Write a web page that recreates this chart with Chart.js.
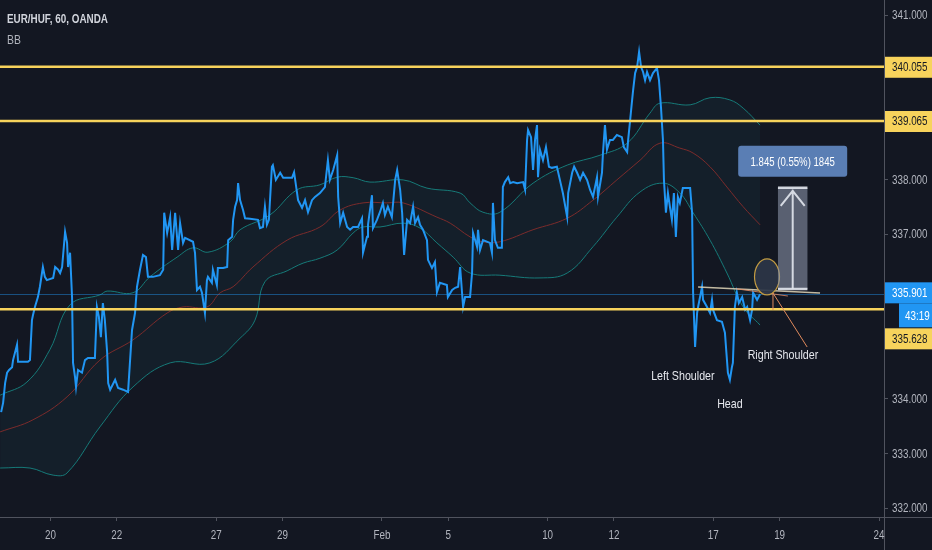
<!DOCTYPE html>
<html>
<head>
<meta charset="utf-8">
<script src="https://cdn.jsdelivr.net/npm/chart.js@4.4.1/dist/chart.umd.min.js"></script>
<style>
  html, body { margin: 0; padding: 0; background: #131722; overflow: hidden; }
  #wrap { width: 932px; height: 550px; }
</style>
</head>
<body>
<div id="wrap"><canvas id="chart" width="932" height="550"></canvas></div>
<script>
// time axis is in trading days, 0 = Jan 20 (weekends skipped)
const dayTicks = [0, 2, 5, 7, 10, 12, 15, 17, 20, 22, 25];
const dayTickLabels = ["20", "22", "27", "29", "Feb", "5", "10", "12", "17", "19", "24"];
const priceTicks = [332, 333, 334, 337, 338, 341];

// EUR/HUF 60 min close
const priceDays = [
  -1.49, -1.43, -1.37, -1.31, -1.25, -1.16, -1.13, -1.01, -0.98, -0.89,
  -0.68, -0.62, -0.56, -0.53, -0.47, -0.38, -0.32, -0.23, -0.17, -0.11,
  0.08, 0.14, 0.23, 0.29, 0.35, 0.44, 0.5, 0.53, 0.59, 0.65,
  0.68, 0.74, 0.77, 0.83, 0.95, 1.04, 1.13, 1.34, 1.4, 1.46,
  1.52, 1.58, 1.64, 1.71, 1.74, 1.8, 1.95, 2.04, 2.19, 2.34,
  2.46, 2.55, 2.61, 2.7, 2.79, 2.88, 2.94, 3.09, 3.3, 3.4,
  3.43, 3.52, 3.61, 3.67, 3.76, 3.85, 3.91, 4.0, 4.06, 4.3,
  4.36, 4.42, 4.51, 4.57, 4.66, 4.72, 4.75, 4.87, 4.9, 5.02,
  5.05, 5.21, 5.33, 5.36, 5.48, 5.51, 5.57, 5.63, 5.66, 5.72,
  5.81, 5.87, 6.02, 6.26, 6.32, 6.41, 6.47, 6.53, 6.59, 6.68,
  6.71, 6.8, 6.93, 7.02, 7.29, 7.35, 7.44, 7.47, 7.59, 7.68,
  7.77, 7.89, 7.98, 8.13, 8.28, 8.37, 8.43, 8.53, 8.65, 8.68,
  8.74, 8.83, 8.95, 9.04, 9.13, 9.28, 9.4, 9.43, 9.55, 9.58,
  9.7, 9.73, 9.85, 9.94, 10.03, 10.09, 10.18, 10.3, 10.4, 10.46,
  10.55, 10.61, 10.67, 10.76, 10.85, 10.94, 11.0, 11.09, 11.15, 11.24,
  11.36, 11.39, 11.51, 11.6, 11.66, 11.75, 11.96, 11.99, 12.12, 12.21,
  12.3, 12.36, 12.45, 12.51, 12.66, 12.72, 12.75, 12.87, 12.9, 12.96,
  13.05, 13.26, 13.32, 13.35, 13.41, 13.5, 13.62, 13.65, 13.71, 13.81,
  13.87, 13.96, 14.08, 14.26, 14.32, 14.38, 14.41, 14.5, 14.56, 14.62,
  14.68, 14.71, 14.77, 14.86, 14.95, 15.04, 15.13, 15.28, 15.37, 15.46,
  15.59, 15.62, 15.74, 15.8, 15.89, 15.98, 16.07, 16.19, 16.28, 16.37,
  16.49, 16.52, 16.64, 16.67, 16.73, 16.79, 16.88, 16.97, 17.09, 17.24,
  17.3, 17.4, 17.43, 17.49, 17.55, 17.58, 17.64, 17.7, 17.76, 17.82,
  17.88, 17.94, 18.0, 18.09, 18.18, 18.3, 18.36, 18.42, 18.48, 18.51,
  18.57, 18.63, 18.69, 18.75, 18.81, 18.87, 18.93, 18.99, 19.08, 19.3,
  19.36, 19.39, 19.45, 19.51, 19.54, 19.66, 19.69, 19.81, 19.9, 19.96,
  19.99, 20.11, 20.26, 20.35, 20.44, 20.5, 20.56, 20.59, 20.65, 20.71,
  20.77, 20.87, 20.96, 21.02, 21.11, 21.17, 21.2, 21.32, 21.41,
];
const priceValues = [
  333.75, 333.92, 334.28, 334.47, 334.52, 334.57, 334.7, 334.98, 334.67, 334.67,
  334.67, 334.7, 335.43, 335.52, 335.67, 335.85, 336.04, 336.4, 336.22, 336.16,
  336.2, 336.4, 336.35, 336.29, 336.4, 337.04, 336.84, 336.4, 336.66, 335.85,
  334.65, 334.39, 334.21, 334.52, 334.47, 334.7, 334.74, 334.74, 335.67, 335.49,
  335.12, 335.74, 335.43, 334.83, 334.28, 334.16, 334.34, 334.19, 334.16, 334.12,
  335.25, 335.56, 336.04, 336.35, 336.62, 336.58, 336.22, 336.22, 336.25, 336.35,
  337.39, 337.02, 337.31, 336.71, 337.39, 336.71, 337.2, 336.84, 336.93, 336.86,
  336.66, 335.98, 336.04, 335.93, 335.56, 336.16, 336.22, 336.11, 336.35, 336.07,
  336.38, 336.38, 336.4, 336.89, 336.95, 337.26, 337.5, 337.62, 337.93, 337.62,
  337.44, 337.29, 337.28, 337.26, 337.11, 337.13, 337.5, 337.17, 337.26, 338.23,
  338.26, 337.99, 338.12, 338.03, 338.03, 338.13, 337.75, 337.62, 337.48, 337.62,
  337.4, 337.62, 337.68, 337.75, 337.86, 338.35, 337.99, 338.17, 338.44, 337.68,
  337.2, 337.39, 337.13, 337.08, 337.13, 337.13, 337.29, 336.66, 336.95, 337.17,
  337.71, 337.11, 337.26, 337.4, 337.57, 337.35, 337.5, 337.31, 337.99, 338.17,
  337.81, 337.39, 336.62, 337.26, 337.2, 337.5, 337.2, 337.31, 337.17, 337.08,
  336.89, 336.53, 336.38, 336.49, 335.94, 336.11, 336.07, 335.85, 335.98, 336.02,
  336.04, 336.4, 335.67, 335.85, 335.85, 336.29, 337.02, 336.77, 337.08, 336.71,
  336.89, 336.84, 336.66, 337.57, 336.89, 336.75, 336.75, 337.86, 337.95, 338.04,
  337.93, 337.95, 337.93, 337.95, 337.81, 338.72, 338.9, 338.77, 338.17, 338.72,
  338.99, 338.04, 338.54, 338.35, 338.59, 338.23, 338.21, 338.23, 337.99, 337.75,
  337.31, 337.75, 338.12, 338.23, 338.12, 337.99, 338.12, 337.99, 337.81, 337.68,
  338.04, 337.68, 338.12, 338.48, 338.99, 338.54, 338.72, 338.72, 338.81, 338.77,
  338.59, 338.5, 338.72, 339.08, 339.45, 339.63, 339.94, 340.05, 340.33, 340.05,
  339.96, 339.81, 339.96, 339.81, 339.94, 340.03, 339.81, 339.32, 338.72, 337.99,
  337.39, 337.75, 337.5, 337.26, 337.75, 336.95, 337.68, 337.57, 337.84, 337.84,
  337.39, 335.93, 334.94, 335.56, 335.67, 336.04, 335.8, 335.67, 335.56, 335.8,
  335.62, 335.43, 335.4, 335.2, 334.47, 334.34, 334.57, 334.65, 335.67, 335.93,
  335.74, 335.85, 335.62, 335.67, 335.43, 335.62, 335.93, 335.8, 335.901,
];

// Bollinger bands (upper / basis / lower)
const upperDays = [-1.52, -0.71, -0.02, 0.59, 1.49, 1.71, 2.49, 3.0, 3.82, 4.3, 4.75, 5.42, 5.72, 6.62, 7.44, 8.13, 8.65, 9.13, 9.64, 10.64, 11.36, 12.36, 12.66, 13.05, 13.56, 14.56, 15.59, 16.58, 17.4, 18.09, 18.39, 19.3, 19.9, 20.5, 20.9, 21.41];
const upperValues = [334.06, 334.3, 334.89, 335.71, 335.89, 335.96, 335.93, 336.22, 336.58, 336.75, 336.67, 336.86, 337.08, 337.35, 337.81, 337.9, 338.04, 338.03, 337.95, 337.99, 337.84, 337.75, 337.57, 337.4, 337.4, 337.93, 338.26, 338.44, 338.66, 339.21, 339.39, 339.36, 339.49, 339.45, 339.3, 338.99];
const basisDays = [-1.52, -0.53, 0.5, 1.49, 2.49, 3.52, 4.0, 4.72, 5.12, 5.51, 6.11, 7.14, 8.13, 8.74, 9.43, 10.15, 10.64, 11.66, 12.06, 12.66, 13.05, 13.56, 14.56, 15.59, 16.37, 17.09, 17.79, 18.39, 18.99, 19.39, 19.9, 20.41, 20.9, 21.41];
const basisValues = [333.39, 333.61, 334.03, 334.7, 335.07, 335.56, 335.67, 335.67, 335.93, 336.04, 336.4, 336.89, 337.13, 337.44, 337.57, 337.57, 337.57, 337.31, 337.2, 336.95, 336.86, 336.86, 337.08, 337.29, 337.62, 337.99, 338.35, 338.66, 338.57, 338.48, 338.23, 337.86, 337.5, 337.17];
const lowerDays = [-1.52, -0.62, 0.08, 0.5, 1.49, 2.49, 3.61, 4.81, 5.72, 6.17, 6.47, 7.14, 7.62, 8.13, 8.65, 9.13, 9.43, 9.94, 10.64, 11.15, 11.66, 12.15, 12.66, 13.56, 14.77, 15.59, 16.37, 17.09, 17.79, 18.48, 18.99, 19.39, 19.9, 20.41, 20.9, 21.41];
const lowerValues = [332.73, 332.73, 332.6, 332.64, 333.48, 334.21, 334.65, 334.65, 335.1, 335.43, 336.13, 336.33, 336.47, 336.56, 336.71, 337.02, 337.13, 337.13, 337.2, 337.11, 336.84, 336.58, 336.29, 336.25, 336.2, 336.29, 336.77, 337.31, 337.77, 337.93, 337.75, 337.39, 336.89, 336.29, 335.67, 335.34];

// horizontal levels and last price
const levelValues = [340.055, 339.065, 335.628];
const lastPrice = 335.901;
const countdown = "43:19";

// head & shoulders drawing
const necklineDays = [19.54, 23.22];
const necklinePrices = [336.035, 335.925];
const targetDays = [21.95, 22.84];
const targetBase = 336.0;
const targetMove = 1.845;
const targetText = "1.845 (0.55%) 1845";
const patternLabels = ["Left Shoulder", "Head", "Right Shoulder"];
const patternLabelDays = [19.08, 20.5, 22.1];
const patternLabelPrices = [334.41, 333.9, 334.79];

const BG = "#131722";
const AXIS = "#50535e";
const TEXT = "#b2b5be";
const YELLOW = "#f7d35c";
const BLUE = "#2196f3";
const FONT = "'Liberation Sans', Arial, sans-serif";
const SQUEEZE = 0.82;

function pts(days, values) {
  return days.map((d, i) => ({ x: d, y: values[i] }));
}

// narrow text, the TradingView font is a condensed one
function text(ctx, str, x, y, align, squeeze) {
  ctx.save();
  ctx.translate(x, y);
  ctx.scale(squeeze || SQUEEZE, 1);
  ctx.textAlign = align || "left";
  ctx.textBaseline = "middle";
  ctx.fillText(str, 0, 0);
  ctx.restore();
}

function axisLabel(ctx, str, x, y, bg, fg, w) {
  ctx.fillStyle = bg;
  ctx.fillRect(x, y - 10, w, 21);
  ctx.fillStyle = fg;
  text(ctx, str, x + 7, y + 1);
}

const drawings = {
  id: "drawings",
  beforeDraw(chart) {
    const { ctx, width, height } = chart;
    ctx.save();
    ctx.fillStyle = BG;
    ctx.fillRect(0, 0, width, height);
    ctx.restore();
  },
  afterDatasetsDraw(chart) {
    const { ctx, chartArea: a } = chart;
    const x = chart.scales.x;
    const y = chart.scales.y;
    ctx.save();
    ctx.beginPath();
    ctx.rect(a.left, a.top, a.right - a.left, a.bottom - a.top);
    ctx.clip();

    // last price line
    const ly = Math.round(y.getPixelForValue(lastPrice)) + 0.5;
    ctx.strokeStyle = "rgba(33,150,243,0.45)";
    ctx.lineWidth = 1;
    ctx.beginPath();
    ctx.moveTo(a.left, ly);
    ctx.lineTo(a.right, ly);
    ctx.stroke();

    // yellow levels
    ctx.strokeStyle = YELLOW;
    ctx.lineWidth = 2.5;
    levelValues.forEach((v) => {
      const py = y.getPixelForValue(v);
      ctx.beginPath();
      ctx.moveTo(a.left, py);
      ctx.lineTo(a.right, py);
      ctx.stroke();
    });

    // neckline
    ctx.strokeStyle = "rgba(214,204,176,0.9)";
    ctx.lineWidth = 1.5;
    ctx.beginPath();
    ctx.moveTo(x.getPixelForValue(necklineDays[0]), y.getPixelForValue(necklinePrices[0]));
    ctx.lineTo(x.getPixelForValue(necklineDays[1]), y.getPixelForValue(necklinePrices[1]));
    ctx.stroke();
    ctx.strokeStyle = "rgba(230,140,100,0.8)";
    ctx.lineWidth = 1;
    ctx.beginPath();
    ctx.moveTo(x.getPixelForValue(20.71), y.getPixelForValue(336.0));
    ctx.lineTo(x.getPixelForValue(22.25), y.getPixelForValue(335.87));
    ctx.stroke();

    // right shoulder circle
    const cx = x.getPixelForValue(21.62);
    const cy = y.getPixelForValue(336.22);
    ctx.fillStyle = "rgba(44,54,72,0.92)";
    ctx.strokeStyle = "#c29b42";
    ctx.lineWidth = 1.2;
    ctx.beginPath();
    ctx.ellipse(cx, cy, 12.5, 18, 0, 0, Math.PI * 2);
    ctx.fill();
    ctx.stroke();

    // target projection
    const tx0 = x.getPixelForValue(targetDays[0]);
    const tx1 = x.getPixelForValue(targetDays[1]);
    const tyB = y.getPixelForValue(targetBase);
    const tyT = y.getPixelForValue(targetBase + targetMove);
    ctx.fillStyle = "rgba(140,150,170,0.58)";
    ctx.fillRect(tx0, tyT, tx1 - tx0, tyB - tyT);
    ctx.strokeStyle = "rgba(224,228,236,0.92)";
    ctx.lineWidth = 2.5;
    ctx.beginPath();
    ctx.moveTo(tx0, tyT);
    ctx.lineTo(tx1, tyT);
    ctx.moveTo(tx0, tyB);
    ctx.lineTo(tx1, tyB);
    ctx.stroke();
    const mx = (tx0 + tx1) / 2;
    ctx.lineWidth = 2;
    ctx.beginPath();
    ctx.moveTo(mx, tyB);
    ctx.lineTo(mx, tyT + 2);
    ctx.moveTo(mx - 12, tyT + 18);
    ctx.lineTo(mx, tyT + 3);
    ctx.lineTo(mx + 12, tyT + 18);
    ctx.stroke();

    // target text box
    const bw = 109, bh = 31;
    const bx = mx - bw / 2;
    const by = tyT - 11 - bh;
    ctx.fillStyle = "#5a7eb4";
    ctx.beginPath();
    ctx.roundRect(bx, by, bw, bh, 3);
    ctx.fill();
    ctx.fillStyle = "#ffffff";
    ctx.font = "12px " + FONT;
    text(ctx, targetText, mx, by + bh / 2 + 1, "center", 0.8);

    // leader to right shoulder label
    ctx.strokeStyle = "#e08a5c";
    ctx.lineWidth = 1;
    ctx.beginPath();
    ctx.moveTo(x.getPixelForValue(21.8), y.getPixelForValue(335.925));
    ctx.lineTo(x.getPixelForValue(22.83), y.getPixelForValue(334.94));
    ctx.moveTo(x.getPixelForValue(21.8), y.getPixelForValue(335.925));
    ctx.lineTo(x.getPixelForValue(21.8), y.getPixelForValue(335.615));
    ctx.stroke();

    // pattern labels
    ctx.fillStyle = "#e6e8ee";
    ctx.font = "13px " + FONT;
    patternLabels.forEach((t, i) => {
      text(ctx, t, x.getPixelForValue(patternLabelDays[i]), y.getPixelForValue(patternLabelPrices[i]), "center");
    });
    ctx.restore();
  },
  afterDraw(chart) {
    const { ctx, chartArea: a, width, height } = chart;
    const x = chart.scales.x;
    const y = chart.scales.y;
    ctx.save();

    // axis frame lines
    ctx.strokeStyle = AXIS;
    ctx.lineWidth = 1;
    ctx.beginPath();
    ctx.moveTo(Math.round(a.right) + 0.5, 0);
    ctx.lineTo(Math.round(a.right) + 0.5, height);
    ctx.moveTo(0, Math.round(a.bottom) + 0.5);
    ctx.lineTo(width, Math.round(a.bottom) + 0.5);
    ctx.stroke();

    // tick labels
    ctx.font = "12px " + FONT;
    ctx.fillStyle = TEXT;
    priceTicks.forEach((v) => {
      text(ctx, v.toFixed(3), a.right + 8, y.getPixelForValue(v) + 1);
    });
    dayTicks.forEach((d, i) => {
      text(ctx, dayTickLabels[i], x.getPixelForValue(d), a.bottom + 19, "center");
    });

    // price labels on the axis
    const lx = a.right + 1;
    const lw = width - lx;
    const lastY = y.getPixelForValue(lastPrice);
    levelValues.forEach((v) => {
      let py = y.getPixelForValue(v);
      if (Math.abs(py - lastY) < 40 && v < lastPrice) py = lastY + 44;
      axisLabel(ctx, v.toFixed(3), lx, py, YELLOW, "#131722", lw);
    });
    axisLabel(ctx, lastPrice.toFixed(3), lx, lastY - 2, BLUE, "#ffffff", lw);
    ctx.fillStyle = BLUE;
    ctx.fillRect(lx + 14, lastY + 9, lw - 14, 24);
    ctx.fillStyle = "#ffffff";
    text(ctx, countdown, lx + 20, lastY + 22);

    // legend text
    ctx.fillStyle = "#d1d4dc";
    ctx.font = "bold 13px " + FONT;
    text(ctx, "EUR/HUF, 60, OANDA", 7, 19, "left", 0.76);
    ctx.fillStyle = TEXT;
    ctx.font = "13px " + FONT;
    text(ctx, "BB", 7, 40, "left", 0.8);
    ctx.restore();
  },
};

new Chart(document.getElementById("chart"), {
  type: "line",
  data: {
    datasets: [
      {
        label: "EUR/HUF",
        data: pts(priceDays, priceValues),
        borderColor: "#2196f3",
        borderWidth: 2,
        pointRadius: 0,
        tension: 0,
        order: 0,
      },
      {
        label: "Upper",
        data: pts(upperDays, upperValues),
        borderColor: "#167a78",
        borderWidth: 1,
        pointRadius: 0,
        tension: 0.4,
        fill: 3,
        backgroundColor: "rgba(38,140,150,0.07)",
        order: 2,
      },
      {
        label: "Basis",
        data: pts(basisDays, basisValues),
        borderColor: "#7c2b2b",
        borderWidth: 1,
        pointRadius: 0,
        tension: 0.4,
        order: 1,
      },
      {
        label: "Lower",
        data: pts(lowerDays, lowerValues),
        borderColor: "#167a78",
        borderWidth: 1,
        pointRadius: 0,
        tension: 0.4,
        order: 3,
      },
    ],
  },
  options: {
    responsive: false,
    animation: false,
    layout: { padding: 0 },
    plugins: {
      legend: { display: false },
      tooltip: { enabled: false },
    },
    scales: {
      x: {
        type: "linear",
        min: -1.524,
        max: 25.15,
        grid: { display: true, drawOnChartArea: false, drawTicks: true, tickLength: 4, color: AXIS },
        border: { display: true, color: AXIS },
        ticks: { display: false, autoSkip: false, maxRotation: 0 },
        afterBuildTicks: (s) => {
          s.ticks = dayTicks.map((v) => ({ value: v }));
        },
        afterFit: (s) => {
          s.height = 33;
        },
      },
      y: {
        position: "right",
        min: 331.836,
        max: 341.274,
        grid: { display: true, drawOnChartArea: false, drawTicks: true, tickLength: 4, color: AXIS },
        border: { display: true, color: AXIS },
        ticks: { display: false },
        afterBuildTicks: (s) => {
          s.ticks = priceTicks.map((v) => ({ value: v }));
        },
        afterFit: (s) => {
          s.width = 48;
        },
      },
    },
  },
  plugins: [drawings],
});
</script>
</body>
</html>
